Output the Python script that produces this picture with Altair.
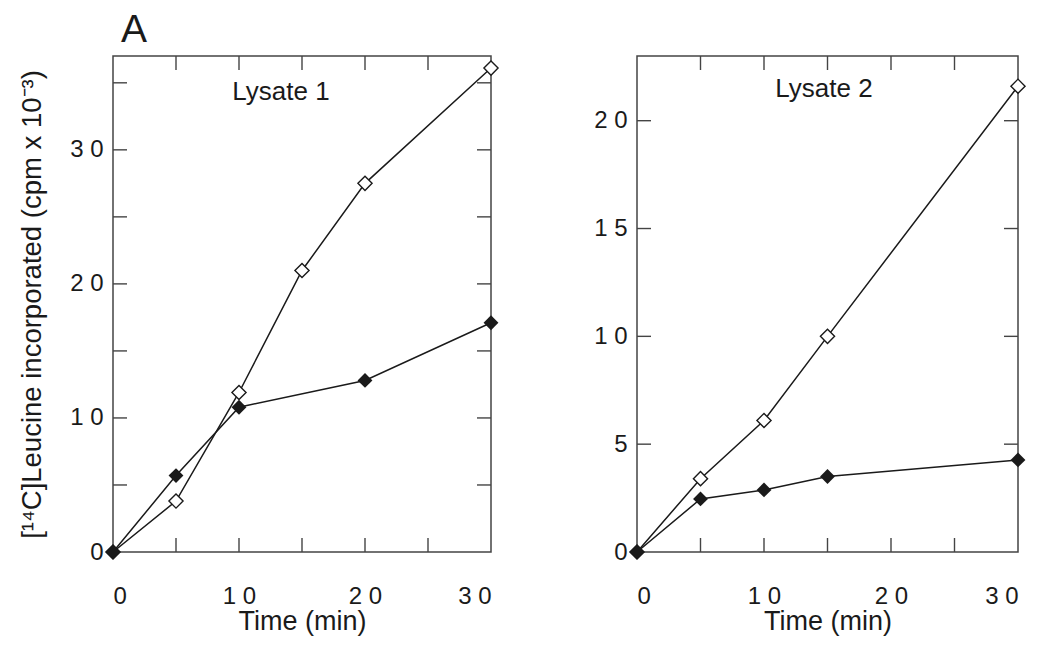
import altair as alt
import pandas as pd

# ---- data ----
l1_open_t = [0, 5, 10, 15, 20, 30]
l1_open_v = [0, 3.8, 11.9, 21.0, 27.5, 36.1]
l1_fill_t = [0, 5, 10, 20, 30]
l1_fill_v = [0, 5.7, 10.8, 12.8, 17.1]

l2_open_t = [0, 5, 10, 15, 30]
l2_open_v = [0, 3.4, 6.1, 10.0, 21.6]
l2_fill_t = [0, 5, 10, 15, 30]
l2_fill_v = [0, 2.46, 2.88, 3.5, 4.27]

x_labels = [0, 10, 20, 30]
x_minor = [5, 10, 15, 20, 25]
l1_y_labels = [0, 10, 20, 30]
l1_y_ticks = [5, 10, 15, 20, 25, 30, 35]
l2_y_labels = [0, 5, 10, 15, 20]
l2_y_ticks = [5, 10, 15, 20]

FONT = "Liberation Sans"
INK = "#1a1a1a"
FRAME = "#444444"
TICK = 14
LABEL_EXPR = "replace(datum.label, /(\\d)(?=\\d)/g, '$1 ')"


def panel(open_t, open_v, fill_t, fill_v, ymax, ylabels, yticks, W, H,
          name, name_dx, name_dy, ytitle):
    d_open = pd.DataFrame({"t": open_t, "v": open_v, "s": "open"})
    d_fill = pd.DataFrame({"t": fill_t, "v": fill_v, "s": "filled"})
    data = pd.concat([d_open, d_fill], ignore_index=True)

    xs = alt.Scale(domain=[0, 30], nice=False, zero=False)
    ys = alt.Scale(domain=[0, ymax], nice=False, zero=False)
    xaxis = alt.Axis(values=x_labels, ticks=False, domain=False, grid=False,
                     labelPadding=32, labelExpr=LABEL_EXPR,
                     title="Time (min)", titlePadding=0)
    if ytitle:
        yaxis = alt.Axis(values=ylabels, ticks=False, domain=False, grid=False,
                         labelPadding=10, labelExpr=LABEL_EXPR,
                         title=ytitle, titlePadding=23)
    else:
        yaxis = alt.Axis(values=ylabels, ticks=False, domain=False, grid=False,
                         labelPadding=10, labelExpr=LABEL_EXPR, title=None)

    X = alt.X("t:Q", scale=xs, axis=xaxis)
    Y = alt.Y("v:Q", scale=ys, axis=yaxis)

    lines = alt.Chart(data).mark_line(color=INK, strokeWidth=1.5).encode(
        x=X, y=Y, detail="s:N")
    pts_open = alt.Chart(d_open).mark_point(
        shape="diamond", filled=True, fill="white", stroke=INK,
        strokeWidth=1.4, size=200, opacity=1).encode(
        x=alt.X("t:Q", scale=xs), y=alt.Y("v:Q", scale=ys))
    pts_fill = alt.Chart(d_fill).mark_point(
        shape="diamond", filled=True, color=INK, size=220, opacity=1).encode(
        x=alt.X("t:Q", scale=xs), y=alt.Y("v:Q", scale=ys))

    dxt = pd.DataFrame({"tx": x_minor})
    dyt = pd.DataFrame({"ty": yticks})
    tx = alt.X("tx:Q", scale=xs)
    ty = alt.Y("ty:Q", scale=ys)
    rule_kw = dict(color=FRAME, strokeWidth=1.4)
    bottom = alt.Chart(dxt).mark_rule(**rule_kw).encode(
        x=tx, y=alt.value(H), y2=alt.value(H - TICK))
    top = alt.Chart(dxt).mark_rule(**rule_kw).encode(
        x=tx, y=alt.value(0), y2=alt.value(TICK))
    left = alt.Chart(dyt).mark_rule(**rule_kw).encode(
        y=ty, x=alt.value(0), x2=alt.value(TICK))
    right = alt.Chart(dyt).mark_rule(**rule_kw).encode(
        y=ty, x=alt.value(W - TICK), x2=alt.value(W))

    label = alt.Chart(pd.DataFrame({"name": [name]})).mark_text(
        font=FONT, fontSize=26, color=INK, align="center",
        baseline="alphabetic").encode(
        text="name:N", x=alt.value(name_dx), y=alt.value(name_dy))

    return alt.layer(bottom, top, left, right, lines, pts_open, pts_fill,
                     label).properties(width=W, height=H)


p1 = panel(l1_open_t, l1_open_v, l1_fill_t, l1_fill_v, 37, l1_y_labels,
           l1_y_ticks, 378, 496, "Lysate 1", 168, 44,
           "[¹⁴C]Leucine incorporated (cpm x 10⁻³)")
letter = alt.Chart(pd.DataFrame({"L": ["A"]})).mark_text(
    font=FONT, fontSize=39, color=INK, align="left",
    baseline="alphabetic").encode(text="L:N", x=alt.value(8), y=alt.value(-14))
p1 = alt.layer(p1, letter)

p2 = panel(l2_open_t, l2_open_v, l2_fill_t, l2_fill_v, 23, l2_y_labels,
           l2_y_ticks, 381, 496, "Lysate 2", 187, 41, None)

chart = alt.hconcat(p1, p2, spacing=90).properties(
    padding={"left": 17, "top": 10, "right": 5, "bottom": 5},
    background="white",
).configure_view(stroke=FRAME, strokeWidth=1.5).configure_axis(
    labelFont=FONT, labelFontSize=24, labelColor=INK,
    titleFont=FONT, titleFontSize=27.5, titleFontWeight="normal",
    titleColor=INK,
).configure_axisX(titleFontSize=27)

chart.save("out.html", embed_options={"renderer": "svg", "actions": False})
